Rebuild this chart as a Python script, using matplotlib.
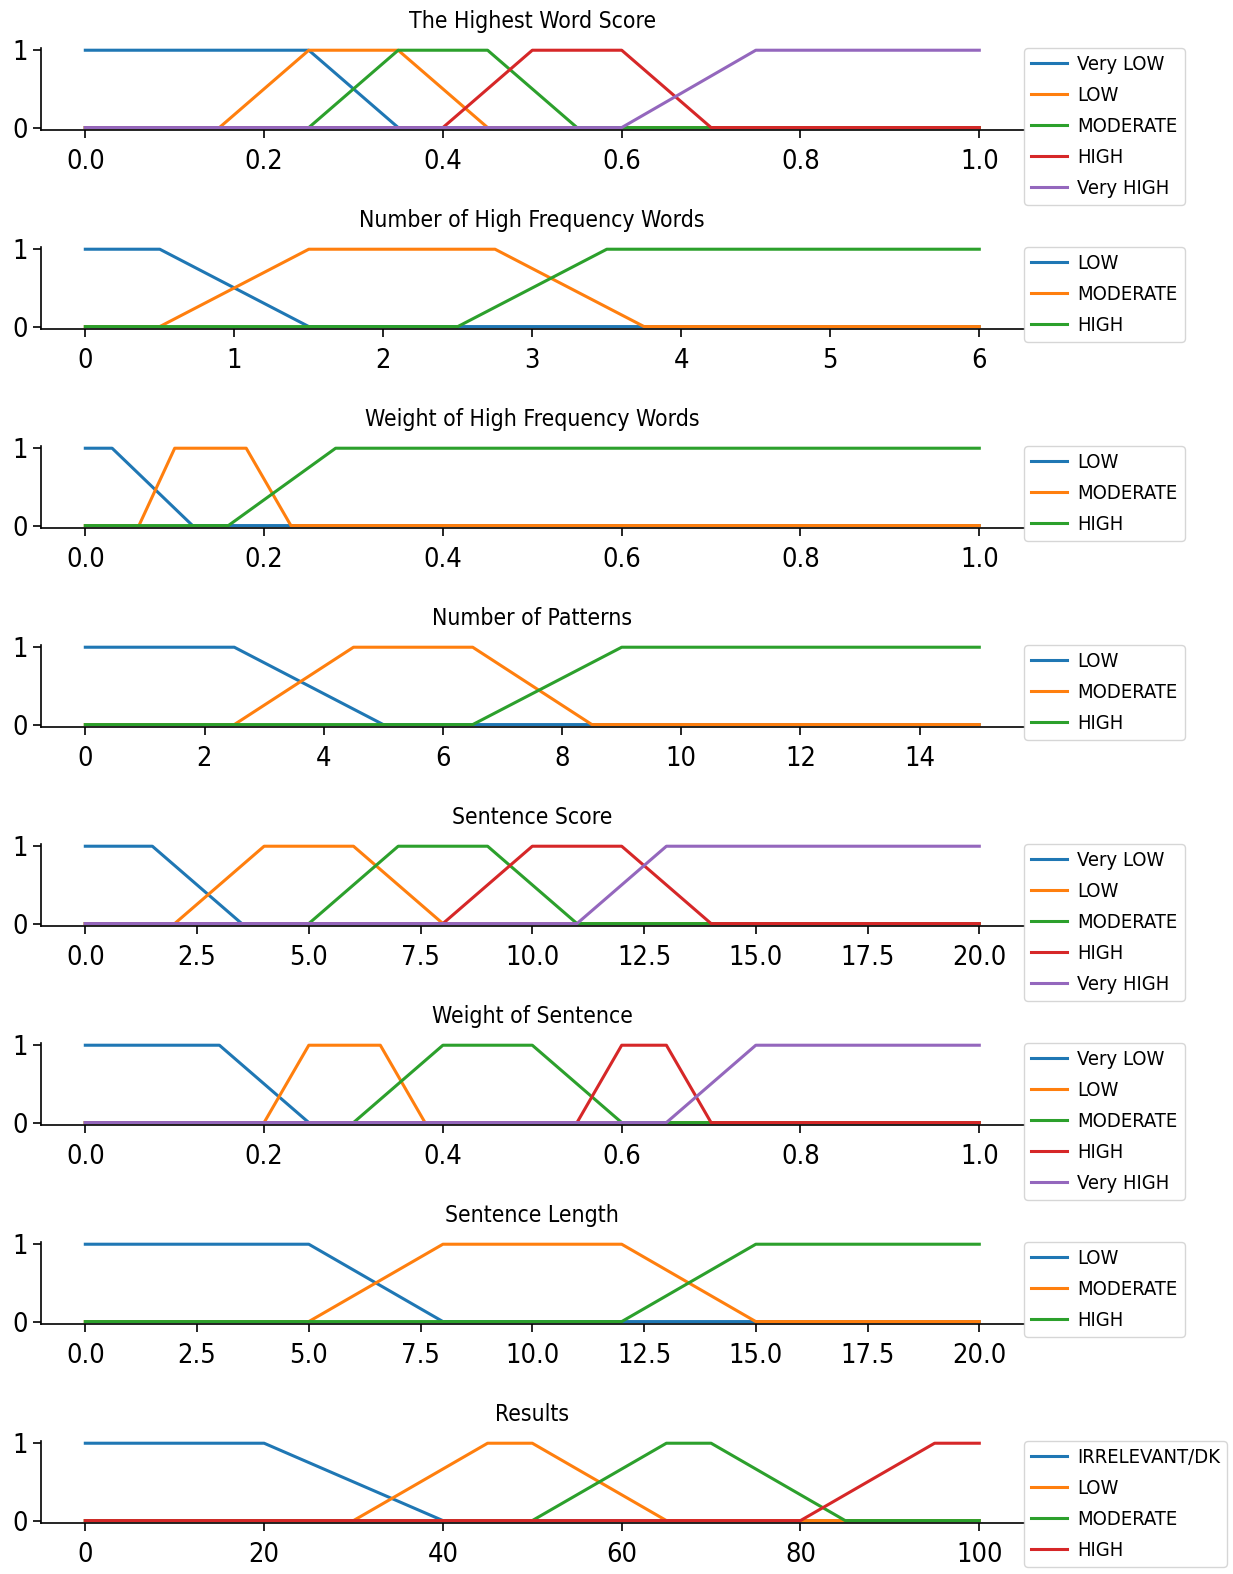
import matplotlib
matplotlib.use("Agg")
import matplotlib.pyplot as plt
import numpy as np

plt.rcParams["font.family"] = ["DejaVu Sans"]
plt.rcParams["font.stretch"] = "condensed"

# variable titles, universe ranges and x tick steps
titles = [
    "The Highest Word Score",
    "Number of High Frequency Words",
    "Weight of High Frequency Words",
    "Number of Patterns",
    "Sentence Score",
    "Weight of Sentence",
    "Sentence Length",
    "Results",
]
universes = [(0, 1), (0, 6), (0, 1), (0, 15), (0, 20), (0, 1), (0, 20), (0, 100)]
tick_steps = [0.2, 1, 0.2, 2, 2.5, 0.2, 2.5, 20]
tick_fmt = ["{:.1f}", "{:.0f}", "{:.1f}", "{:.0f}", "{:.1f}", "{:.1f}", "{:.1f}", "{:.0f}"]

labels_5 = ["Very LOW", "LOW", "MODERATE", "HIGH", "Very HIGH"]
labels_3 = ["LOW", "MODERATE", "HIGH"]
labels_res = ["IRRELEVANT/DK", "LOW", "MODERATE", "HIGH"]
term_labels = [labels_5, labels_3, labels_3, labels_3, labels_5, labels_5, labels_3, labels_res]

# trapezoid corners [a, b, c, d] for each term
highest_word_score = [[0, 0, 0.25, 0.35], [0.15, 0.25, 0.35, 0.45], [0.25, 0.35, 0.45, 0.55],
                      [0.4, 0.5, 0.6, 0.7], [0.6, 0.75, 1, 1]]
num_hf_words = [[0, 0, 0.5, 1.5], [0.5, 1.5, 2.75, 3.75], [2.5, 3.5, 6, 6]]
weight_hf_words = [[0, 0, 0.03, 0.12], [0.06, 0.1, 0.18, 0.23], [0.16, 0.28, 1, 1]]
num_patterns = [[0, 0, 2.5, 5], [2.5, 4.5, 6.5, 8.5], [6.5, 9, 15, 15]]
sentence_score = [[0, 0, 1.5, 3.5], [2, 4, 6, 8], [5, 7, 9, 11], [8, 10, 12, 14], [11, 13, 20, 20]]
weight_sentence = [[0, 0, 0.15, 0.25], [0.2, 0.25, 0.33, 0.38], [0.3, 0.4, 0.5, 0.6],
                   [0.55, 0.6, 0.65, 0.7], [0.65, 0.75, 1, 1]]
sentence_length = [[0, 0, 5, 8], [5, 8, 12, 15], [12, 15, 20, 20]]
results = [[0, 0, 20, 40], [30, 45, 50, 65], [50, 65, 70, 85], [80, 95, 100, 100]]

all_terms = [highest_word_score, num_hf_words, weight_hf_words, num_patterns,
             sentence_score, weight_sentence, sentence_length, results]


def trap_points(lo, hi, abcd):
    """corner points of a trapezoid membership function over [lo, hi]"""
    a, b, c, d = abcd
    xs, ys = [], []
    if a > lo:
        xs.append(lo); ys.append(0)
    if b > a or a > lo:
        xs.append(a); ys.append(0)
    xs.append(b); ys.append(1)
    xs.append(c); ys.append(1)
    if d > c or d < hi:
        xs.append(d); ys.append(0)
    if d < hi:
        xs.append(hi); ys.append(0)
    return xs, ys


W, H = 1233, 1574
fig = plt.figure(figsize=(W / 100, H / 100), dpi=100)

left_px, right_px = 40.6, 1024
ax_h = 82
for i in range(8):
    top_px = 47.9 + 199 * i
    ax = fig.add_axes([left_px / W, 1 - (top_px + ax_h) / H, (right_px - left_px) / W, ax_h / H])
    lo, hi = universes[i]
    for j, (abcd, lab) in enumerate(zip(all_terms[i], term_labels[i])):
        xs, ys = trap_points(lo, hi, abcd)
        ax.plot(xs, ys, color=f"C{j}", linewidth=2.2, label=lab)
    span = hi - lo
    ax.set_xlim(lo - 0.05 * span, hi + 0.05 * span)
    ax.set_ylim(-0.03, 1.03)
    ticks = np.arange(lo, hi + tick_steps[i] / 2, tick_steps[i])
    ax.set_xticks(ticks)
    ax.set_xticklabels([tick_fmt[i].format(t) for t in ticks], fontsize=19.5)
    ax.set_yticks([0, 1])
    ax.set_yticklabels(["0", "1"], fontsize=19.5)
    ax.tick_params(length=6, width=1.2)
    ax.tick_params(axis="x", pad=8)
    ax.set_title(titles[i], fontsize=16.5, pad=14)
    ax.spines["top"].set_visible(False)
    ax.spines["right"].set_visible(False)
    ax.spines["left"].set_linewidth(1.2)
    ax.spines["bottom"].set_linewidth(1.2)
    ax.legend(loc="upper left", bbox_to_anchor=(1, 1), borderaxespad=0, borderpad=0.35,
              fontsize=14.5, labelspacing=0.6, handlelength=1.8, handletextpad=0.5)

fig.savefig("out.png", dpi=100)
